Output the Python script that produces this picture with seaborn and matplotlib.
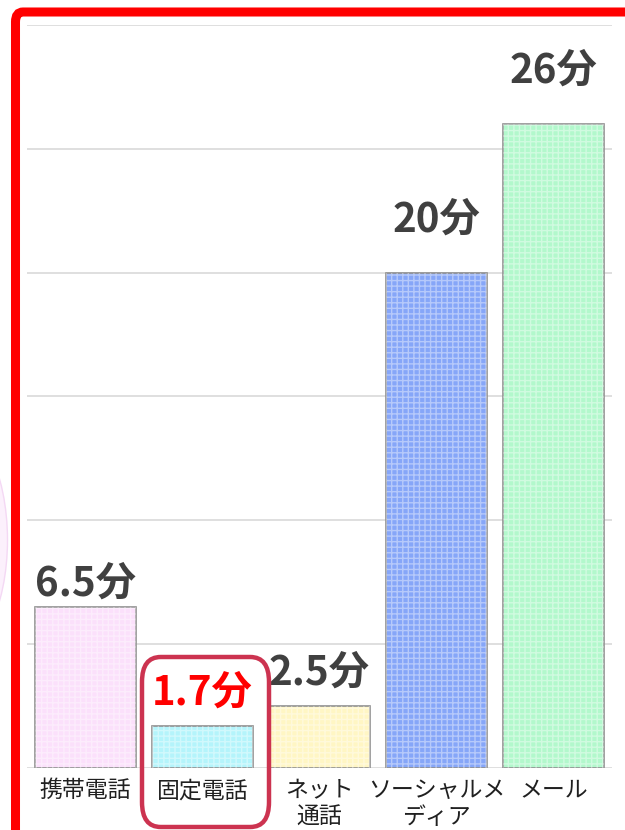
import pandas as pd
import seaborn as sns
import matplotlib.pyplot as plt
from matplotlib.patches import FancyBboxPatch, Ellipse

categories = ['携帯電話', '固定電話', 'ネット\n通話', 'ソーシャルメ\nディア', 'メール']
minutes = [6.5, 1.7, 2.5, 20, 26]
value_labels = ['6.5分', '1.7分', '2.5分', '20分', '26分']
bar_colors = ['#fbe0fb', '#b4f4fb', '#fff6c4', '#86a6f8', '#b2f8cc']
label_colors = ['#404040', '#ff0000', '#404040', '#404040', '#404040']
label_gap = [0.1, 0.5, 0.5, 1.3, 1.3]

sns.set_theme(style='white')
plt.rcParams['font.family'] = ['Noto Sans CJK JP', 'DejaVu Sans']

data = pd.DataFrame({'cat': categories, 'min': minutes})

fig = plt.figure(figsize=(6.25, 8.3), dpi=100)
ax = fig.add_axes([27 / 625, 62 / 830, 585 / 625, 743 / 830])

# faint pink circle peeking in on the left
fig.patches.append(Ellipse((-55 / 625, 290 / 830), 125 / 625, 250 / 830,
                           transform=fig.transFigure, facecolor='#fcf0fc',
                           edgecolor='#f4d8f4', lw=1, zorder=0))

sns.barplot(data=data, x='cat', y='min', hue='cat', palette=bar_colors,
            saturation=1, legend=False, width=0.86, edgecolor='#909090',
            linewidth=1.2, ax=ax, zorder=3)

# fine grid texture on the bars
for p in list(ax.patches):
    ax.bar(p.get_x() + p.get_width() / 2, p.get_height(), width=p.get_width(),
           facecolor='none', edgecolor=(1, 1, 1, 0.4), hatch='+++',
           linewidth=0, zorder=4)

ax.set_ylim(0, 30)
ax.set_xlim(-0.5, 4.5)
ax.set_yticks(range(0, 31, 5))
ax.set_yticklabels([])
ax.yaxis.grid(True, color='#d9d9d9', linewidth=1.2)
ax.set_axisbelow(True)
for s in ax.spines.values():
    s.set_visible(False)
ax.set_xlabel('')
ax.set_ylabel('')
ax.tick_params(axis='x', length=0, pad=8, labelsize=16.5, labelcolor='#202020')
ax.tick_params(axis='y', length=0)
for t in ax.get_xticklabels():
    t.set_linespacing(1.2)

for i, v in enumerate(minutes):
    ax.text(i, v + label_gap[i], value_labels[i], ha='center', va='bottom',
            fontsize=29, fontweight='bold', color=label_colors[i], zorder=5)

# red rounded frame around 固定電話
fig.patches.append(FancyBboxPatch((142 / 625, 3 / 830), 127 / 625, 170 / 830,
                                  boxstyle='round,pad=0,rounding_size=0.03',
                                  transform=fig.transFigure, facecolor='none',
                                  edgecolor='#cc3350', linewidth=3.2, zorder=6))

# red border, top and left
fig.patches.append(FancyBboxPatch((15.5 / 625, -0.2), 1.2, 1.2 - 12 / 830,
                                  boxstyle='round,pad=0,rounding_size=0.012',
                                  transform=fig.transFigure, facecolor='none',
                                  edgecolor='#ff0000', linewidth=6.5, zorder=7))

fig.savefig('out.png', dpi=100)
